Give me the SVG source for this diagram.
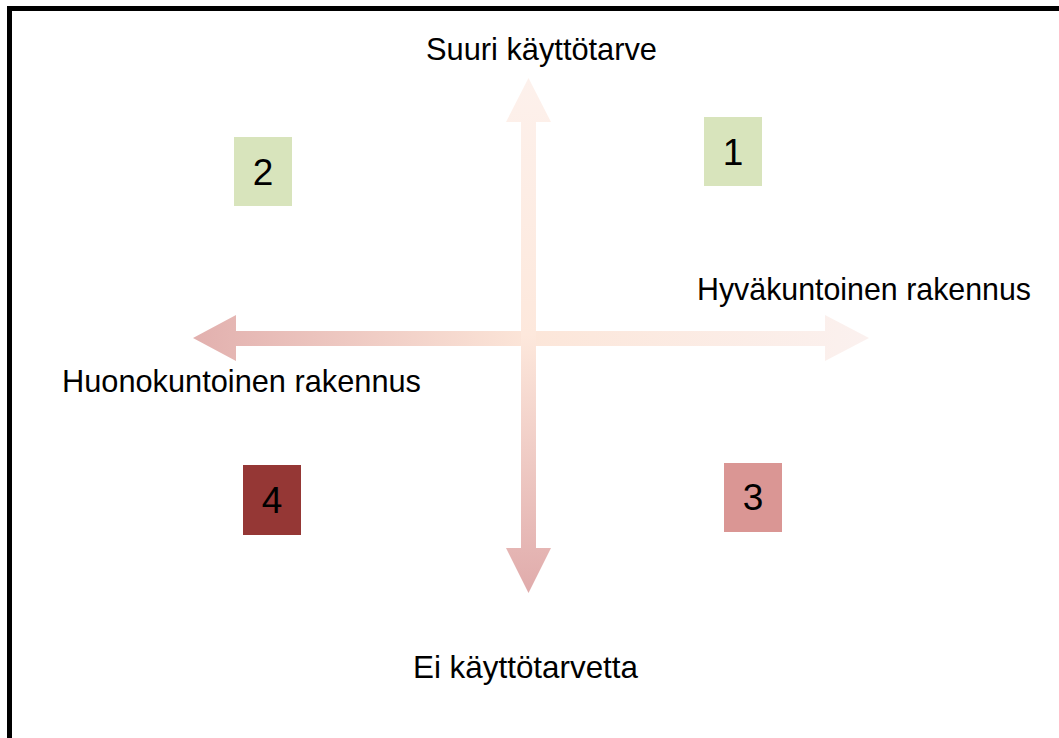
<svg xmlns="http://www.w3.org/2000/svg" width="1059" height="738" viewBox="0 0 1059 738">
  <style>
    .lbl { font-family: "Liberation Sans", Arial, sans-serif; font-size: 30.5px; fill: #000; }
    .num { font-family: "Liberation Sans", Arial, sans-serif; font-size: 37px; fill: #000; text-anchor: middle; }
  </style>
  <defs>
    <linearGradient id="gradH" gradientUnits="userSpaceOnUse" x1="193" y1="0" x2="869" y2="0">
      <stop offset="0" stop-color="#e2b0ae"/>
      <stop offset="0.5" stop-color="#fce6d9"/>
      <stop offset="1" stop-color="#fbf1ef"/>
    </linearGradient>
    <linearGradient id="gradV" gradientUnits="userSpaceOnUse" x1="0" y1="78" x2="0" y2="593">
      <stop offset="0" stop-color="#fdf1ec"/>
      <stop offset="0.5" stop-color="#fde8dc"/>
      <stop offset="1" stop-color="#e0abab"/>
    </linearGradient>
  </defs>

  <rect width="1059" height="738" fill="#fff"/>
  <!-- frame, open at right and bottom -->
  <rect x="9.5" y="8.5" width="1100" height="800" fill="none" stroke="#000" stroke-width="5"/>

  <g id="connectors">
    <!-- horizontal double arrow -->
    <polygon id="axis-x" fill="url(#gradH)"
      points="193,338 236,315 236,331 825,331 825,315 869,338 825,361 825,346 236,346 236,361"/>
    <!-- vertical double arrow -->
    <polygon id="axis-y" fill="url(#gradV)"
      points="528.5,78 551,122 536,122 536,548 551,548 528.5,593 506,548 521,548 521,122 506,122"/>
  </g>

  <g id="label-top"><text class="lbl" x="426" y="60" textLength="231" lengthAdjust="spacingAndGlyphs">Suuri käyttötarve</text></g>
  <g id="label-right"><text class="lbl" x="697" y="300" textLength="334" lengthAdjust="spacingAndGlyphs">Hyväkuntoinen rakennus</text></g>
  <g id="label-left"><text class="lbl" x="62" y="392" textLength="359" lengthAdjust="spacingAndGlyphs">Huonokuntoinen rakennus</text></g>
  <g id="label-bottom"><text class="lbl" x="413" y="678" textLength="225" lengthAdjust="spacingAndGlyphs">Ei käyttötarvetta</text></g>

  <g id="q1"><rect x="704" y="117" width="58" height="69" fill="#d8e4bc"/><text class="num" x="733" y="165">1</text></g>
  <g id="q2"><rect x="234" y="137" width="58" height="69" fill="#d8e4bc"/><text class="num" x="263" y="185">2</text></g>
  <g id="q3"><rect x="724" y="463" width="58" height="69" fill="#da9694"/><text class="num" x="753" y="510">3</text></g>
  <g id="q4"><rect x="243" y="465" width="58" height="70" fill="#953735"/><text class="num" x="272" y="513">4</text></g>
</svg>
